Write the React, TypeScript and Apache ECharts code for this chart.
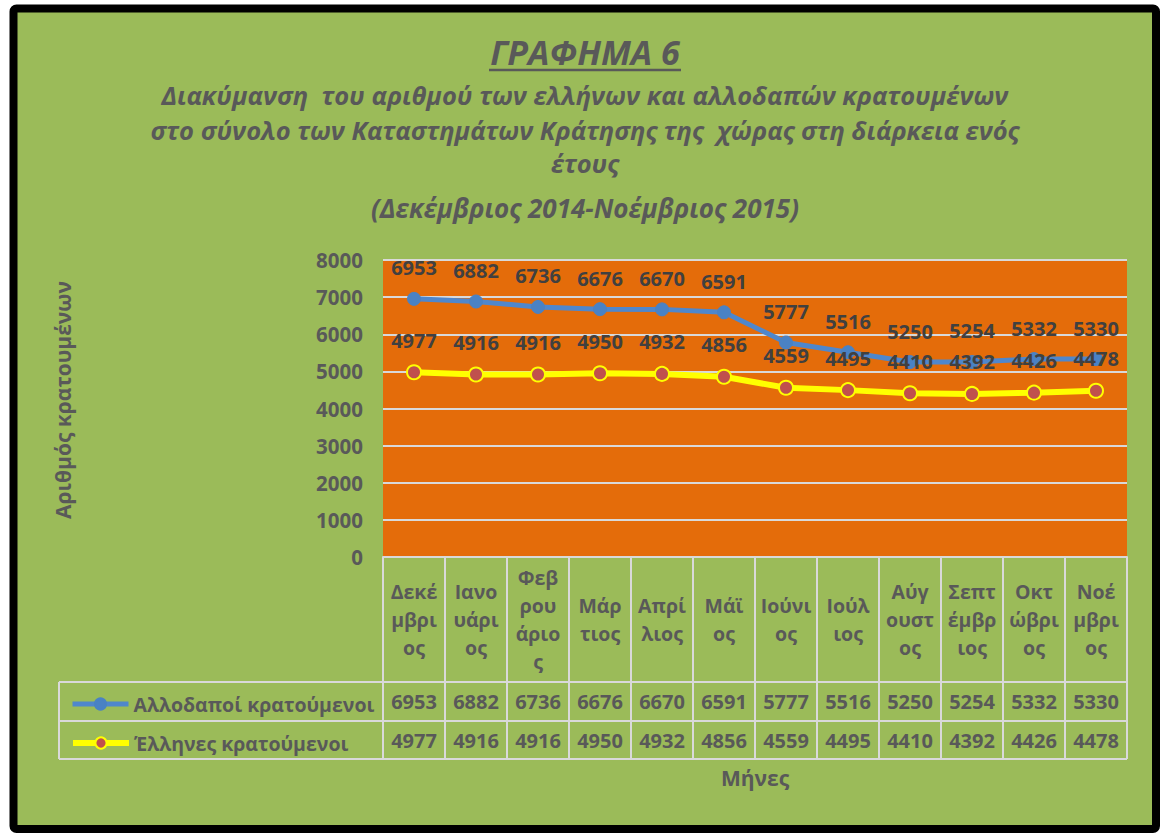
import React, { useEffect, useRef } from 'react';
import * as echarts from 'echarts';

const monthLabels = [
  'Δεκέ\nμβρι\nος', 'Ιανο\nυάρι\nος', 'Φεβ\nρου\nάριο\nς', 'Μάρ\nτιος', 'Απρί\nλιος', 'Μάϊ\nος',
  'Ιούνι\nος', 'Ιούλ\nιος', 'Αύγ\nουστ\nος', 'Σεπτ\nέμβρ\nιος', 'Οκτ\nώβρι\nος', 'Νοέ\nμβρι\nος',
];
const foreignName = 'Αλλοδαποί κρατούμενοι';
const greekName = 'Έλληνες κρατούμενοι';
const foreign = [6953, 6882, 6736, 6676, 6670, 6591, 5777, 5516, 5250, 5254, 5332, 5330];
const greek = [4977, 4916, 4916, 4950, 4932, 4856, 4559, 4495, 4410, 4392, 4426, 4478];
const yMin = 0;
const yMax = 8000;
const yStep = 1000;

const titleMain = 'ΓΡΑΦΗΜΑ 6';
const titleLines = [
  'Διακύμανση  του αριθμού των ελλήνων και αλλοδαπών κρατουμένων',
  'στο σύνολο των Καταστημάτων Κράτησης της  χώρας στη διάρκεια ενός',
  'έτους',
  '(Δεκέμβριος 2014-Νοέμβριος 2015)',
];
const yAxisTitle = 'Αριθμός κρατουμένων';
const xAxisTitle = 'Μήνες';

const FONT = '"Open Sans", "Noto Sans", sans-serif';
const GREY = '#595959';
const LINE = '#D9D9D9';

export default function App() {
  const ref = useRef<HTMLDivElement>(null);
  useEffect(() => {
    if (!ref.current) return;
    const chart = echarts.init(ref.current, null, { renderer: 'svg' });
    const gridLeft = 383;
    const gridWidth = 744;
    const valueAxis = (gi: number, values: number[]) => ({
      gridIndex: gi,
      type: 'category',
      data: monthLabels,
      boundaryGap: true,
      axisLine: { show: false },
      axisTick: { show: false },
      axisLabel: {
        interval: 0,
        margin: 0,
        verticalAlign: 'middle',
        formatter: (_v: string, i: number) => String(values[i]),
        fontFamily: FONT,
        fontSize: 20,
        fontWeight: 'bold',
        color: GREY,
      },
    });
    const titleText = (text: string, y: number, size: number) => ({
      type: 'text',
      x: 585,
      y,
      style: {
        text,
        align: 'center',
        verticalAlign: 'middle',
        fontFamily: FONT,
        fontSize: size,
        fontWeight: 'bold',
        fontStyle: 'italic',
        fill: GREY,
      },
    });
    const legendText = { fontFamily: FONT, fontSize: 19.5, fontWeight: 'bold', color: GREY };
    chart.setOption({
      animation: false,
      backgroundColor: '#FFFFFF',
      grid: [
        { left: gridLeft, top: 260, width: gridWidth, height: 297, show: true, backgroundColor: '#E46C0A', borderWidth: 0 },
        { left: gridLeft, top: 700, width: gridWidth, height: 1 },
        { left: gridLeft, top: 739, width: gridWidth, height: 1 },
      ],
      xAxis: [
        {
          gridIndex: 0,
          type: 'category',
          data: monthLabels,
          boundaryGap: true,
          axisLine: { show: true, lineStyle: { color: LINE, width: 2 } },
          axisTick: { show: true, length: 202, lineStyle: { color: LINE, width: 2 } },
          axisLabel: {
            interval: 0,
            margin: 62,
            verticalAlign: 'middle',
            lineHeight: 28,
            fontFamily: FONT,
            fontSize: 19.5,
            fontWeight: 'bold',
            color: GREY,
          },
          name: xAxisTitle,
          nameLocation: 'middle',
          nameGap: 210,
          nameTextStyle: { fontFamily: FONT, fontSize: 21, fontWeight: 'bold', color: GREY },
        },
        valueAxis(1, foreign),
        valueAxis(2, greek),
      ],
      yAxis: [
        {
          gridIndex: 0,
          type: 'value',
          min: yMin,
          max: yMax,
          interval: yStep,
          axisLine: { show: false },
          axisTick: { show: false },
          splitLine: { show: true, lineStyle: { color: LINE, width: 2 } },
          axisLabel: {
            margin: 20,
            formatter: (v: number) => String(v),
            fontFamily: FONT,
            fontSize: 20.5,
            fontWeight: 'bold',
            color: GREY,
          },
        },
        { gridIndex: 1, type: 'value', show: false },
        { gridIndex: 2, type: 'value', show: false },
      ],
      legend: [
        {
          data: [foreignName],
          left: 65,
          top: 689,
          itemWidth: 56,
          itemHeight: 14,
          lineStyle: { width: 5 },
          textStyle: legendText,
        },
        {
          data: [greekName],
          left: 65,
          top: 728,
          itemWidth: 56,
          itemHeight: 14,
          lineStyle: { width: 6 },
          textStyle: legendText,
        },
      ],
      series: [
        {
          name: foreignName,
          type: 'line',
          xAxisIndex: 0,
          yAxisIndex: 0,
          data: foreign,
          symbol: 'circle',
          symbolSize: 13,
          lineStyle: { color: '#4F87CC', width: 5 },
          itemStyle: { color: '#4A82C4', borderColor: '#4A82C4', borderWidth: 1 },
          label: {
            show: true,
            position: 'top',
            distance: 14,
            fontFamily: FONT,
            fontSize: 20,
            fontWeight: 'bold',
            color: '#404040',
          },
          z: 3,
        },
        {
          name: greekName,
          type: 'line',
          xAxisIndex: 0,
          yAxisIndex: 0,
          data: greek,
          symbol: 'circle',
          symbolSize: 14,
          lineStyle: { color: '#FFFF00', width: 6 },
          itemStyle: { color: '#C0504D', borderColor: '#FFFF00', borderWidth: 2 },
          label: {
            show: true,
            position: 'top',
            distance: 14,
            fontFamily: FONT,
            fontSize: 20,
            fontWeight: 'bold',
            color: '#404040',
          },
          z: 4,
        },
      ],
      graphic: [
        {
          type: 'rect',
          z: -10,
          shape: { x: 13.5, y: 8.5, width: 1142.5, height: 820.5, r: 3 },
          style: { fill: '#9BBB59', stroke: '#000000', lineWidth: 8 },
        },
        titleText(titleMain, 52, 34),
        {
          type: 'line',
          shape: { x1: 489, y1: 70, x2: 681, y2: 70 },
          style: { stroke: GREY, lineWidth: 2.5 },
        },
        titleText(titleLines[0], 95, 25.5),
        titleText(titleLines[1], 130, 25.5),
        titleText(titleLines[2], 163, 25.5),
        titleText(titleLines[3], 208, 26),
        {
          type: 'text',
          x: 63,
          y: 400,
          rotation: Math.PI / 2,
          style: {
            text: yAxisTitle,
            align: 'center',
            verticalAlign: 'middle',
            fontFamily: FONT,
            fontSize: 21,
            fontWeight: 'bold',
            fill: GREY,
          },
        },
        { type: 'line', shape: { x1: 59, y1: 682, x2: 1127, y2: 682 }, style: { stroke: LINE, lineWidth: 2 } },
        { type: 'line', shape: { x1: 59, y1: 721, x2: 1127, y2: 721 }, style: { stroke: LINE, lineWidth: 2 } },
        { type: 'line', shape: { x1: 59, y1: 759, x2: 1127, y2: 759 }, style: { stroke: LINE, lineWidth: 2 } },
        { type: 'line', shape: { x1: 59, y1: 682, x2: 59, y2: 759 }, style: { stroke: LINE, lineWidth: 2 } },
      ],
    });
    return () => chart.dispose();
  }, []);
  return (
    <div
      ref={ref}
      style={{ position: 'absolute', left: 0, top: 0, width: 1161, height: 834 }}
    />
  );
}
